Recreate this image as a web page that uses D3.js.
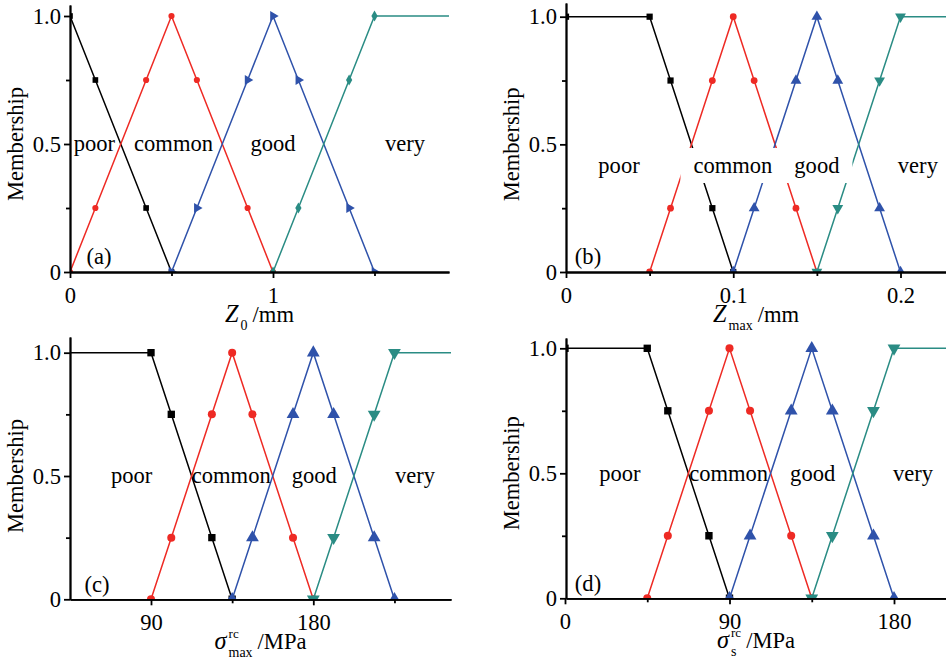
<!DOCTYPE html>
<meta charset="utf-8">
<style>
body { margin: 0; background: #fff; }
.axis path, .axis line { stroke: #000; stroke-width: 1.8px; }
.line { fill: none; stroke-width: 1.5px; }
</style>
<svg width="946" height="659"></svg>
<script src="https://d3js.org/d3.v7.min.js"></script>
<script>
// series names and colours
var names = ["poor", "common", "good", "very"];
var colors = ["#000000", "#ee2a24", "#2f52aa", "#2a8c84"];

// membership values at the plotted points
var poorA = [1, 0.75, 0.25, 0];
var poorM = [1, 1, 0.75, 0.25, 0];
var midM = [0, 0.25, 0.75, 1, 0.75, 0.25, 0];
var veryM = [0, 0.25, 0.75, 1, 1];

// (a) Z0 /mm
var aPoor = [0, 0.125, 0.375, 0.5];
var aCommon = [0, 0.125, 0.375, 0.5, 0.625, 0.875, 1];
var aGood = [0.5, 0.625, 0.875, 1, 1.125, 1.375, 1.5];
var aVery = [1, 1.125, 1.375, 1.5, 2];

// (b) Zmax /mm
var bPoor = [0, 0.05, 0.0625, 0.0875, 0.1];
var bCommon = [0.05, 0.0625, 0.0875, 0.1, 0.1125, 0.1375, 0.15];
var bGood = [0.1, 0.1125, 0.1375, 0.15, 0.1625, 0.1875, 0.2];
var bVery = [0.15, 0.1625, 0.1875, 0.2, 0.25];

// (c) sigma max /MPa
var cPoor = [0, 90, 101.25, 123.75, 135];
var cCommon = [90, 101.25, 123.75, 135, 146.25, 168.75, 180];
var cGood = [135, 146.25, 168.75, 180, 191.25, 213.75, 225];
var cVery = [180, 191.25, 213.75, 225, 270];

// (d) sigma s /MPa
var dPoor = [0, 45, 56.25, 78.75, 90];
var dCommon = [45, 56.25, 78.75, 90, 101.25, 123.75, 135];
var dGood = [90, 101.25, 123.75, 135, 146.25, 168.75, 180];
var dVery = [135, 146.25, 168.75, 180, 225];

// ticks
var yTicks = [0, 0.5, 1], yMinor = [0.25, 0.75], yTickText = ["0", "0.5", "1.0"];
var aTicks = [0, 1], aMinor = [0.5, 1.5];
var bTicks = [0, 0.1, 0.2], bMinor = [0.05, 0.15];
var cTicks = [90, 180], cMinor = [135, 225];
var dTicks = [0, 90, 180], dMinor = [45, 135];

var FONT = "'Liberation Serif', 'DejaVu Serif', serif";
var svg = d3.select("svg");

// font size so that "Membership" comes out about 114px long
var probe = svg.append("text").style("font-family", FONT).style("font-size", "22px").text("Membership");
var fs = 22 * 114 / probe.node().getComputedTextLength();
probe.remove();

function txt(sel) {
  return sel.style("font-family", FONT).style("font-size", fs + "px").style("fill", "#000");
}

var panels = [
  {id: "a", left: 70, right: 449, top: 5, y1: 16, bottom: 272, x0: 0, x1: 1, px0: 70, px1: 273,
   xs: [aPoor, aCommon, aGood, aVery], ys: [poorA, midM, midM, veryM],
   ticks: aTicks, minor: aMinor, fmt: d3.format("d"),
   marks: [["square", 0], ["circle", 0], ["tri", 90], ["diamond", 0]], msize: 1,
   labelX: [0.12, 0.51, 1.0, 1.65], labelY: 0.5, labelBg: false, letterDx: 29,
   title: ["Z", null, "0", "/mm"]},
  {id: "b", left: 566, right: 946, top: 3, y1: 16.7, bottom: 272, x0: 0, x1: 0.2, px0: 566, px1: 900.5,
   xs: [bPoor, bCommon, bGood, bVery], ys: [poorM, midM, midM, veryM],
   ticks: bTicks, minor: bMinor, fmt: function(d) { return d === 0 ? "0" : d3.format(".1f")(d); },
   marks: [["square", 0], ["circle", 0], ["tri", 0], ["tri", 180]], msize: 1.1,
   labelX: [0.0317, 0.0998, 0.15, 0.2104], labelY: 0.416, labelBg: true, letterDx: 22,
   title: ["Z", null, "max", "/mm"]},
  {id: "c", left: 70, right: 451, top: 337, y1: 352.7, bottom: 599.3, x0: 90, x1: 180, px0: 151, px1: 313.3,
   xs: [cPoor, cCommon, cGood, cVery], ys: [poorM, midM, midM, veryM],
   ticks: cTicks, minor: cMinor, fmt: d3.format("d"),
   marks: [["square", 0], ["circle", 0], ["tri", 0], ["tri", 180]], msize: 1.3,
   labelX: [79.3, 134.5, 180.5, 236.4], labelY: 0.5, labelBg: false, letterDx: 27,
   title: ["\u03c3", "rc", "max", "/MPa"]},
  {id: "d", left: 566, right: 946, top: 338, y1: 348.3, bottom: 598.3, x0: 0, x1: 180, px0: 565, px1: 894,
   xs: [dPoor, dCommon, dGood, dVery], ys: [poorM, midM, midM, veryM],
   ticks: dTicks, minor: dMinor, fmt: d3.format("d"),
   marks: [["square", 0], ["circle", 0], ["tri", 0], ["tri", 180]], msize: 1.3,
   labelX: [30, 89.5, 135.5, 190.4], labelY: 0.5, labelBg: false, letterDx: 22,
   title: ["\u03c3", "rc", "s", "/MPa"]}
];

var symTypes = {square: [d3.symbolSquare, 32], circle: [d3.symbolCircle, 30], tri: [d3.symbolTriangle, 42], diamond: [d3.symbolDiamond, 34]};

panels.forEach(function(p) {
  var x = d3.scaleLinear().domain([p.x0, p.x1]).range([p.px0, p.px1]);
  x.domain([x.invert(p.left), x.invert(p.right)]).range([p.left, p.right]);
  var y = d3.scaleLinear().domain([0, 1]).range([p.bottom, p.y1]);
  y.domain([0, y.invert(p.top)]).range([p.bottom, p.top]);

  var g = svg.append("g");

  svg.append("clipPath").attr("id", "clip-" + p.id)
    .append("rect")
      .attr("x", p.left).attr("y", 0)
      .attr("width", p.right - p.left).attr("height", p.bottom);

  var plot = g.append("g").attr("clip-path", "url(#clip-" + p.id + ")");

  var line = d3.line()
    .x(function(d) { return x(d[0]); })
    .y(function(d) { return y(d[1]); });

  names.forEach(function(n, i) {
    var pts = p.xs[i].map(function(v, k) { return [v, p.ys[i][k]]; });
    plot.append("path")
      .attr("class", "line")
      .attr("d", line(pts))
      .style("stroke", colors[i]);

    var m = p.marks[i], st = symTypes[m[0]];
    var sym = d3.symbol().type(st[0]).size(st[1] * p.msize * p.msize);
    plot.selectAll(".mk" + i)
      .data(pts)
      .enter().append("path")
        .attr("d", sym)
        .attr("transform", function(d) {
          return "translate(" + x(d[0]) + "," + y(d[1]) + ") rotate(" + m[1] + ")";
        })
        .style("fill", colors[i]);
  });

  // category labels
  names.forEach(function(n, i) {
    var t = txt(g.append("text"))
      .attr("x", x(p.labelX[i]))
      .attr("y", y(p.labelY))
      .attr("dy", "0.32em")
      .attr("text-anchor", "middle")
      .text(n);
    if (p.labelBg) {
      var bb = t.node().getBBox();
      g.insert("rect", function() { return t.node(); })
        .attr("x", bb.x - 13).attr("y", bb.y - 5)
        .attr("width", bb.width + 26).attr("height", bb.height + 10)
        .style("fill", "#fff");
    }
  });

  // axes
  g.append("g")
      .attr("class", "axis")
      .attr("transform", "translate(0," + p.bottom + ")")
      .call(d3.axisBottom(x).tickValues(p.minor).tickFormat("").tickSize(4).tickSizeOuter(0));
  txt(g.append("g")
      .attr("class", "axis")
      .attr("transform", "translate(0," + p.bottom + ")")
      .call(d3.axisBottom(x).tickValues(p.ticks).tickFormat(p.fmt).tickSize(6).tickPadding(9).tickSizeOuter(0))
    .selectAll("text"));
  g.append("g")
      .attr("class", "axis")
      .attr("transform", "translate(" + p.left + ",0)")
      .call(d3.axisLeft(y).tickValues(yMinor).tickFormat("").tickSize(4).tickSizeOuter(0));
  txt(g.append("g")
      .attr("class", "axis")
      .attr("transform", "translate(" + p.left + ",0)")
      .call(d3.axisLeft(y).tickValues(yTicks)
        .tickFormat(function(d, i) { return yTickText[i]; })
        .tickSize(6).tickPadding(3).tickSizeOuter(0))
    .selectAll("text"));

  // y title
  txt(g.append("text"))
    .attr("transform", "translate(" + (p.left - 54) + "," + y(0.5) + ") rotate(-90)")
    .attr("text-anchor", "middle")
    .attr("dy", "0.32em")
    .text("Membership");

  // panel letter
  txt(g.append("text"))
    .attr("x", p.left + p.letterDx)
    .attr("y", p.bottom - 15)
    .attr("dy", "0.32em")
    .attr("text-anchor", "middle")
    .text("(" + p.id + ")");

  // x title
  axisTitle(g, (p.left + p.right) / 2, p.bottom + 50, p.title);
});

function axisTitle(g, cx, yb, parts) {
  var t = txt(g.append("text"));
  var b = t.append("tspan").attr("x", 0).attr("y", yb)
    .style("font-style", "italic").style("font-size", (fs * 1.08) + "px").text(parts[0]);
  var w = b.node().getComputedTextLength() + 2;
  var extra = 0;
  if (parts[1]) {
    var s1 = t.append("tspan").attr("x", w).attr("y", yb - 11)
      .style("font-size", (fs * 0.58) + "px").text(parts[1]);
    extra = Math.max(extra, s1.node().getComputedTextLength());
  }
  if (parts[2]) {
    var s2 = t.append("tspan").attr("x", w).attr("y", yb + 8)
      .style("font-size", (fs * 0.62) + "px").text(parts[2]);
    extra = Math.max(extra, s2.node().getComputedTextLength());
  }
  var u = t.append("tspan").attr("x", w + extra + 5).attr("y", yb).text(parts[3]);
  var total = w + extra + 5 + u.node().getComputedTextLength();
  t.attr("transform", "translate(" + (cx - total / 2) + ",0)");
}
</script>
